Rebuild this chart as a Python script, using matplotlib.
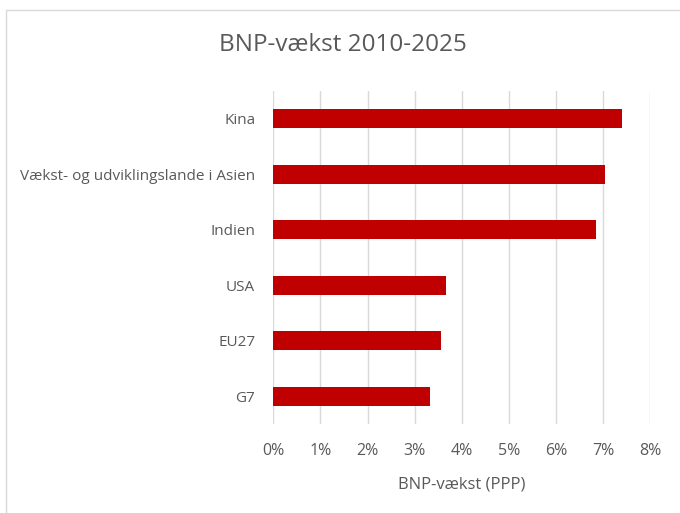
import matplotlib.pyplot as plt
from matplotlib.patches import Rectangle
from matplotlib.ticker import FuncFormatter

# data
lande = ['Kina', 'Vækst- og udviklingslande i Asien', 'Indien', 'USA', 'EU27', 'G7']
vaekst = [0.0741, 0.0703, 0.0684, 0.0367, 0.0355, 0.0332]
x_ticks = [0, 0.01, 0.02, 0.03, 0.04, 0.05, 0.06, 0.07, 0.08]

plt.rcParams['font.family'] = ['Open Sans', 'DejaVu Sans']
grey = '#595959'

fig = plt.figure(figsize=(6.8, 5.13), dpi=100)
# light frame round the chart area
fig.patches.append(Rectangle((6 / 680, -0.01), 1.0, 1 - 10 / 513 + 0.01,
                             transform=fig.transFigure, fill=False,
                             edgecolor='#d9d9d9', linewidth=1))

ax = fig.add_axes([273.3 / 680, 1 - 424 / 513, (650.3 - 273.3) / 680, (424 - 91) / 513])
pos = list(range(len(lande)))
ax.barh(pos, vaekst, height=0.34, color='#c00000', zorder=3)
ax.set_ylim(len(lande) - 0.5, -0.5)
ax.set_yticks(pos)
ax.set_yticklabels(lande, fontsize=11)
ax.set_xlim(0, 0.08)
ax.set_xticks(x_ticks)
ax.xaxis.set_major_formatter(FuncFormatter(lambda v, p: f'{v * 100:.0f}%'))
ax.grid(axis='x', color='#d9d9d9', linewidth=1, zorder=0)
for s in ax.spines.values():
    s.set_visible(False)
ax.tick_params(axis='both', length=0, colors=grey)
ax.tick_params(axis='x', pad=14, labelsize=11.5)
ax.tick_params(axis='y', pad=13)
ax.set_xlabel('BNP-vækst (PPP)', color=grey, fontsize=12, labelpad=12)

fig.text(343 / 680, 1 - 45 / 513, 'BNP-vækst 2010-2025', ha='center', va='center',
         fontsize=17.5, color=grey)

fig.savefig('out.png', dpi=100)
